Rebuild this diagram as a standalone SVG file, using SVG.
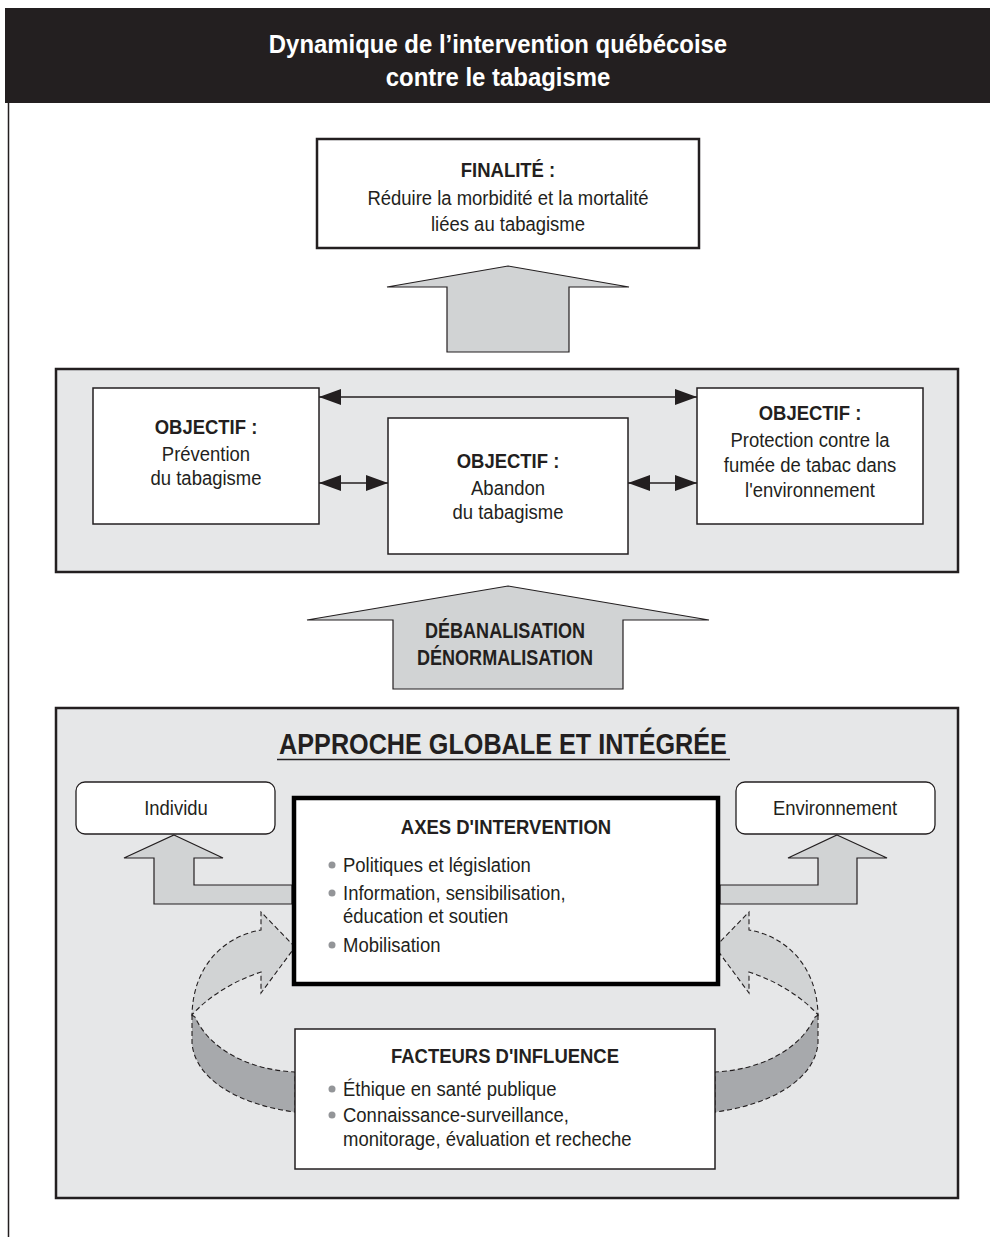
<svg xmlns="http://www.w3.org/2000/svg" width="990" height="1237" viewBox="0 0 990 1237">
<defs>
<style>
text{font-family:"Liberation Sans",Arial,sans-serif;fill:#231f20;text-anchor:middle}
.b{font-weight:bold}
.t{font-size:21px}
.l{text-anchor:start}
.panel{fill:#e6e7e8;stroke:#231f20;stroke-width:2.5}
.box{fill:#fff;stroke:#231f20;stroke-width:1.5}
.arr{fill:#d1d3d4;stroke:#231f20;stroke-width:1.2;stroke-linejoin:miter}
.rib{fill:#d1d3d4;stroke:#231f20;stroke-width:1.1;stroke-dasharray:5 3}
.ribd{fill:#a7a9ac;stroke:#231f20;stroke-width:1.1;stroke-dasharray:5 3}
.dl{stroke:#231f20;stroke-width:1.5;fill:none}
.bul{fill:#939598}
</style>
<marker id="ah" viewBox="0 0 22 16" refX="22" refY="8" markerWidth="22" markerHeight="16" markerUnits="userSpaceOnUse" orient="auto-start-reverse">
<path d="M0,0 L22,8 L0,16 Z" fill="#231f20"/>
</marker>
</defs>
<rect width="990" height="1237" fill="#fff"/>
<g id="header">
<rect x="5" y="8" width="985" height="95" fill="#231f20"/>
<line x1="8.5" y1="103" x2="8.5" y2="1237" stroke="#231f20" stroke-width="1.5"/>
<text transform="translate(498,53) scale(0.92,1)" class="b" style="font-size:26px;fill:#fff">Dynamique de l’intervention québécoise</text>
<text transform="translate(498,86) scale(0.92,1)" class="b" style="font-size:26px;fill:#fff">contre le tabagisme</text>
</g>
<g id="finalite">
<rect x="317" y="139" width="382" height="109" fill="#fff" stroke="#231f20" stroke-width="2.5"/>
<text transform="translate(508,177) scale(0.88,1)" class="b t">FINALITÉ :</text>
<text transform="translate(508,205) scale(0.88,1)" class="t">Réduire la morbidité et la mortalité</text>
<text transform="translate(508,231) scale(0.88,1)" class="t">liées au tabagisme</text>
</g>
<g id="arrow-up-1">
<path class="arr" d="M508,266 L629,287 L569,287 L569,352 L447,352 L447,287 L387,287 Z"/>
</g>
<g id="objectifs-panel">
<rect class="panel" x="56" y="369" width="902" height="203"/>
</g>
<g id="obj-prevention">
<rect class="box" x="93" y="388" width="226" height="136"/>
<text transform="translate(206,434) scale(0.88,1)" class="b t">OBJECTIF :</text>
<text transform="translate(206,461) scale(0.88,1)" class="t">Prévention</text>
<text transform="translate(206,485) scale(0.88,1)" class="t">du tabagisme</text>
</g>
<g id="obj-abandon">
<rect class="box" x="388" y="418" width="240" height="136"/>
<text transform="translate(508,468) scale(0.88,1)" class="b t">OBJECTIF :</text>
<text transform="translate(508,495) scale(0.88,1)" class="t">Abandon</text>
<text transform="translate(508,519) scale(0.88,1)" class="t">du tabagisme</text>
</g>
<g id="obj-protection">
<rect class="box" x="697" y="388" width="226" height="136"/>
<text transform="translate(810,420) scale(0.88,1)" class="b t">OBJECTIF :</text>
<text transform="translate(810,447) scale(0.88,1)" class="t">Protection contre la</text>
<text transform="translate(810,472) scale(0.88,1)" class="t">fumée de tabac dans</text>
<text transform="translate(810,497) scale(0.88,1)" class="t">l'environnement</text>
</g>
<g id="connectors">
<line class="dl" x1="319" y1="397" x2="697" y2="397" marker-start="url(#ah)" marker-end="url(#ah)"/>
<line class="dl" x1="319" y1="483" x2="388" y2="483" marker-start="url(#ah)" marker-end="url(#ah)"/>
<line class="dl" x1="628" y1="483" x2="697" y2="483" marker-start="url(#ah)" marker-end="url(#ah)"/>
</g>
<g id="arrow-debanalisation">
<path class="arr" d="M508,586 L709,620 L623,620 L623,689 L393,689 L393,620 L307,620 Z"/>
<text transform="translate(505,638) scale(0.82,1)" class="b" style="font-size:22px">DÉBANALISATION</text>
<text transform="translate(505,665) scale(0.82,1)" class="b" style="font-size:22px">DÉNORMALISATION</text>
</g>
<g id="approche-panel">
<rect class="panel" x="56" y="708" width="902" height="490"/>
<text transform="translate(503,754) scale(0.84,1)" class="b" style="font-size:30px">APPROCHE GLOBALE ET INTÉGRÉE</text>
<line x1="277" y1="759.5" x2="730" y2="759.5" stroke="#231f20" stroke-width="1.5"/>
</g>
<g id="individu">
<rect class="box" x="76" y="782" width="199" height="52" rx="9" style="stroke-width:1.3"/>
<text transform="translate(176,815) scale(0.88,1)" class="t">Individu</text>
</g>
<g id="environnement">
<rect class="box" x="736" y="782" width="199" height="52" rx="9" style="stroke-width:1.3"/>
<text transform="translate(835,815) scale(0.88,1)" class="t">Environnement</text>
</g>
<g id="arrow-individu">
<path class="arr" d="M174,835 L223,858 L194,858 L194,885 L292,885 L292,904 L154,904 L154,858 L124,858 Z"/>
</g>
<g id="arrow-environnement">
<path class="arr" d="M837,835 L887,858 L857,858 L857,904 L720,904 L720,885 L818,885 L818,858 L788,858 Z"/>
</g>
<g id="ribbon-left">
<path class="rib" d="M295,947 L261,912 L261,930 C225,936 193,965 192,1015 C205,1000 230,982 261,972 L261,993 Z"/>
<path class="ribd" d="M192,1015 L192,1043 C195,1080 240,1105 295,1112 L295,1072 C250,1070 210,1050 195,1017 Z"/>
</g>
<g id="ribbon-right" transform="translate(1010,0) scale(-1,1)">
<path class="rib" d="M295,947 L261,912 L261,930 C225,936 193,965 192,1015 C205,1000 230,982 261,972 L261,993 Z"/>
<path class="ribd" d="M192,1015 L192,1043 C195,1080 240,1105 295,1112 L295,1072 C250,1070 210,1050 195,1017 Z"/>
</g>
<g id="axes">
<rect x="294" y="798" width="424" height="186" fill="#fff" stroke="#000" stroke-width="4.5"/>
<text transform="translate(506,834) scale(0.88,1)" class="b t">AXES D'INTERVENTION</text>
<circle class="bul" cx="332" cy="865" r="3.5"/>
<text transform="translate(343,872) scale(0.88,1)" class="t l">Politiques et législation</text>
<circle class="bul" cx="332" cy="893" r="3.5"/>
<text transform="translate(343,900) scale(0.88,1)" class="t l">Information, sensibilisation,</text>
<text transform="translate(343,923) scale(0.88,1)" class="t l">éducation et soutien</text>
<circle class="bul" cx="332" cy="945" r="3.5"/>
<text transform="translate(343,952) scale(0.88,1)" class="t l">Mobilisation</text>
</g>
<g id="facteurs">
<rect class="box" x="295" y="1029" width="420" height="140"/>
<text transform="translate(505,1063) scale(0.88,1)" class="b t">FACTEURS D'INFLUENCE</text>
<circle class="bul" cx="332" cy="1089" r="3.5"/>
<text transform="translate(343,1096) scale(0.88,1)" class="t l">Éthique en santé publique</text>
<circle class="bul" cx="332" cy="1115" r="3.5"/>
<text transform="translate(343,1122) scale(0.88,1)" class="t l">Connaissance-surveillance,</text>
<text transform="translate(343,1146) scale(0.88,1)" class="t l">monitorage, évaluation et recheche</text>
</g>
</svg>
